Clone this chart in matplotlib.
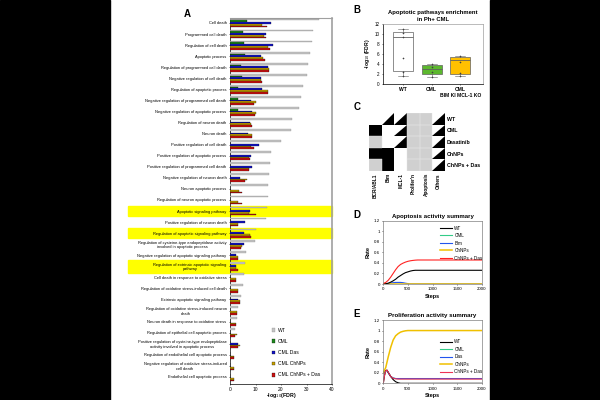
import numpy as np
import matplotlib
matplotlib.use("Agg")
import matplotlib.pyplot as plt
from matplotlib.patches import Rectangle, Polygon
from matplotlib.colors import ListedColormap
from matplotlib.transforms import blended_transform_factory

plt.rcParams['font.family'] = ['Liberation Sans', 'DejaVu Sans']

# Panel A: GO terms and -log10(FDR)
terms = [
    "Cell death", "Programmed cell death", "Regulation of cell death", "Apoptotic process",
    "Regulation of programmed cell death", "Negative regulation of cell death",
    "Regulation of apoptotic process", "Negative regulation of programmed cell death",
    "Negative regulation of apoptotic process", "Regulation of neuron death", "Neuron death",
    "Positive regulation of cell death", "Positive regulation of apoptotic process",
    "Positive regulation of programmed cell death", "Negative regulation of neuron death",
    "Neuron apoptotic process", "Regulation of neuron apoptotic process",
    "Apoptotic signaling pathway", "Positive regulation of neuron death",
    "Regulation of apoptotic signaling pathway",
    "Regulation of cysteine-type endopeptidase activity\ninvolved in apoptotic process",
    "Negative regulation of apoptotic signaling pathway",
    "Regulation of extrinsic apoptotic signaling\npathway",
    "Cell death in response to oxidative stress",
    "Regulation of oxidative stress-induced cell death",
    "Extrinsic apoptotic signaling pathway",
    "Regulation of oxidative stress-induced neuron\ndeath",
    "Neuron death in response to oxidative stress",
    "Regulation of epithelial cell apoptotic process",
    "Positive regulation of cysteine-type endopeptidase\nactivity involved in apoptotic process",
    "Regulation of endothelial cell apoptotic process",
    "Negative regulation of oxidative stress-induced\ncell death",
    "Endothelial cell apoptotic process",
]
highlighted = [17, 19, 22]

wt = [34.9, 32.5, 32.3, 31.2, 30.5, 30.2, 28.6, 27.7, 27.2, 24.4, 24.0, 19.9, 15.9, 15.6, 15.4,
      15.0, 14.9, 14.6, 14.0, 10.3, 9.8, 6.4, 5.9, 5.4, 5.1, 4.3, 3.0, 2.7, 2.0, 0, 0, 0, 0]
cml = [6.8, 5.1, 5.6, 5.9, 4.2, 4.6, 3.3, 3.3, 3.3, 0, 0, 0, 0, 0, 0, 0, 0, 0, 0, 0, 0, 0, 0,
       0, 0, 0, 0, 0, 0, 0, 0, 0, 0]
cml_das = [16.0, 14.0, 16.9, 12.0, 14.9, 12.0, 12.7, 8.2, 8.5, 7.7, 6.9, 11.4, 8.2, 8.5, 3.8,
           0, 0, 7.8, 5.8, 5.5, 5.4, 2.2, 2.5, 0, 0, 3.1, 0, 0, 0, 3.0, 0, 0, 0]
cml_chnps = [12.7, 13.5, 14.9, 12.9, 15.3, 12.2, 14.8, 10.0, 10.0, 8.1, 8.5, 8.2, 7.5, 7.5, 6.5,
             3.5, 3.3, 7.5, 3.1, 7.7, 4.8, 3.0, 2.2, 2.5, 3.1, 3.8, 2.7, 2.5, 2.7, 4.1, 1.7, 1.7, 1.7]
cml_chnps_das = [14.4, 14.2, 15.6, 13.7, 15.3, 12.7, 14.8, 9.5, 9.8, 8.5, 8.8, 9.3, 7.7, 7.5, 5.8,
                 4.8, 4.6, 10.3, 3.1, 8.4, 4.3, 3.0, 3.3, 2.5, 3.3, 4.1, 2.7, 2.5, 2.0, 3.0, 1.7, 1.7, 1.7]
series_a = [wt, cml, cml_das, cml_chnps, cml_chnps_das]
names_a = ["WT", "CML", "CML Das", "CML ChNPs", "CML ChNPs + Das"]
colors_a = ["#c4c4c4", "#1f8a1f", "#1414c8", "#c8a000", "#cc1111"]

# Panel B: boxplot stats
groups_b = ["WT", "CML", "CML\nBIM KI MCL-1 KO"]
box_lo = [2.6, 2.0, 1.9]
box_hi = [10.45, 3.7, 5.4]
box_med = [9.4, 2.9, 4.65]
whis_lo = [1.6, 1.4, 1.6]
whis_hi = [10.9, 3.9, 5.6]
points_b = [[10.9, 10.25, 9.4, 5.1, 2.4, 1.6], [3.9, 3.4, 2.4, 1.4], [5.6, 4.3, 2.2, 1.6]]
colors_b = ["white", "#5cb82e", "#ffc000"]

# Panel C: state grid (0 white, 1 black, 2 gray, 3 triangle)
rows_c = ["WT", "CML", "Dasatinib", "ChNPs", "ChNPs + Das"]
cols_c = ["BCR/ABL1", "Bim", "MCL-1", "Prolifer'n", "Apoptosis", "Others"]
grid_c = [
    [0, 3, 3, 2, 2, 3],
    [1, 0, 3, 2, 2, 3],
    [2, 0, 3, 2, 2, 3],
    [1, 1, 0, 2, 2, 3],
    [2, 1, 0, 2, 2, 3],
]

# Panel D: apoptosis activity
steps_d = [0, 50, 100, 150, 200, 250, 300, 350, 400, 450, 500, 550, 600, 650, 700, 1000, 1500, 2000]
apo_wt = [0, 0.005, 0.015, 0.035, 0.06, 0.09, 0.13, 0.16, 0.19, 0.215, 0.23, 0.245, 0.255, 0.26,
          0.26, 0.26, 0.26, 0.26]
apo_cml = [0] * 18
apo_bim = [0, 0.005, 0.01, 0.02, 0.025, 0.03, 0.03, 0.03, 0.025, 0.015, 0.008, 0, 0, 0, 0, 0, 0, 0]
apo_chnps = [0] * 18
apo_chnps_das = [0.01, 0.03, 0.07, 0.13, 0.2, 0.27, 0.33, 0.37, 0.395, 0.415, 0.43, 0.44, 0.447,
                 0.452, 0.455, 0.455, 0.455, 0.455]

# Panel E: proliferation activity
steps_e = [0, 25, 50, 75, 100, 150, 200, 250, 300, 350, 400, 450, 500, 600, 700, 1000, 1500, 2000]
pro_wt = [0, 0.15, 0.24, 0.25, 0.21, 0.13, 0.07, 0.03, 0.01, 0, 0, 0, 0, 0, 0, 0, 0, 0]
pro_cml = [0.2, 0.22, 0.24, 0.24, 0.2, 0.13, 0.1, 0.09, 0.09, 0.09, 0.09, 0.09, 0.09, 0.09, 0.09,
           0.09, 0.09, 0.09]
pro_das = [0.2, 0.22, 0.24, 0.24, 0.2, 0.13, 0.1, 0.09, 0.09, 0.09, 0.09, 0.09, 0.09, 0.09, 0.09,
           0.09, 0.09, 0.09]
pro_chnps = [0.2, 0.25, 0.3, 0.4, 0.5, 0.68, 0.82, 0.9, 0.94, 0.97, 0.985, 0.995, 1.0, 1.0, 1.0,
             1.0, 1.0, 1.0]
pro_chnps_das = [0, 0.15, 0.24, 0.25, 0.21, 0.13, 0.095, 0.085, 0.08, 0.08, 0.08, 0.08, 0.08, 0.08,
                 0.08, 0.08, 0.08, 0.08]

fig = plt.figure(figsize=(6, 4), dpi=100)

# black side bands
fig.patches.append(Rectangle((0, 0), 110 / 600, 1, transform=fig.transFigure, color="black", zorder=-5))
fig.patches.append(Rectangle((490 / 600, 0), 110 / 600, 1, transform=fig.transFigure, color="black", zorder=-5))


def px(x0, y0, x1, y1):
    return [x0 / 600, 1 - y1 / 400, (x1 - x0) / 600, (y1 - y0) / 400]


# ---- Panel A
axA = fig.add_axes(px(230, 18, 332, 384))
n = len(terms)
y = np.arange(n)
offs = [-0.32, -0.16, 0, 0.16, 0.32]
for vals, nm, col, o in zip(series_a, names_a, colors_a, offs):
    ec = "#808080" if nm == "WT" else "black"
    axA.barh(y + o, vals, height=0.16, color=col, edgecolor=ec, linewidth=0.2, label=nm, zorder=3)
axA.set_ylim(32.64, -0.45)
axA.set_xlim(0, 40)
axA.set_xticks([0, 10, 20, 30, 40])
axA.set_yticks(y)
axA.set_yticklabels(terms, fontsize=2.9, multialignment="center")
axA.tick_params(axis="both", length=1, width=0.4, pad=1.5)
axA.tick_params(axis="x", labelsize=3.5, pad=1)
for s in ["top", "right"]:
    axA.spines[s].set_color("#a0a0a0")
axA.spines["right"].set_linewidth(1.2)
for s in ["left", "bottom"]:
    axA.spines[s].set_linewidth(0.5)
fig.text(281 / 600, 1 - 396 / 400, "-log$_{10}$(FDR)", fontsize=3.8, fontweight="bold",
         ha="center", va="center")
tr = blended_transform_factory(fig.transFigure, axA.transData)
for i in highlighted:
    h = 1.2 if "\n" in terms[i] else 0.95
    axA.add_patch(Rectangle((128 / 600, i - h / 2), (332 - 128) / 600, h, transform=tr,
                            color="#ffff00", zorder=0, clip_on=False))
axA.legend(loc="upper left", bbox_to_anchor=(269 / 600, 1 - 325 / 400), bbox_transform=fig.transFigure,
           fontsize=3.6, frameon=False, handlelength=0.7, handleheight=0.7, labelspacing=1.25,
           handletextpad=0.6, borderpad=0)
fig.text(187 / 600, 1 - 14 / 400, "A", fontsize=7, fontweight="bold", ha="center", va="center")

# ---- Panel B
axB = fig.add_axes(px(383, 24, 483, 83.5))
stats = []
for i in range(3):
    stats.append({"med": box_med[i], "q1": box_lo[i], "q3": box_hi[i],
                  "whislo": whis_lo[i], "whishi": whis_hi[i], "fliers": []})
bp = axB.bxp(stats, positions=[1, 2, 3], widths=0.7, patch_artist=True, showcaps=True,
             boxprops=dict(linewidth=0.5, edgecolor="#606060"),
             medianprops=dict(color="#606060", linewidth=0.6),
             whiskerprops=dict(linewidth=0.4, color="#606060"),
             capprops=dict(linewidth=0.4, color="#606060"))
for patch, c in zip(bp["boxes"], colors_b):
    patch.set_facecolor(c)
for i, pts in enumerate(points_b):
    axB.plot([i + 1] * len(pts), pts, "+", color="#404040", ms=2, mew=0.4, zorder=4)
axB.set_xlim(0.3, 3.8)
axB.set_ylim(0, 12)
axB.set_yticks([0, 2, 4, 6, 8, 10, 12])
axB.set_xticks([1, 2, 3])
axB.set_xticklabels(groups_b, fontsize=3.6, fontweight="bold")
axB.tick_params(axis="both", length=1, width=0.4, pad=1.5)
axB.tick_params(axis="y", labelsize=3.3)
for s in axB.spines.values():
    s.set_linewidth(0.5)
for s in ["top", "right"]:
    axB.spines[s].set_color("#a0a0a0")
axB.set_ylabel("-log$_{10}$ (FDR)", fontsize=3.6, fontweight="bold", labelpad=2)
axB.set_title("Apoptotic pathways enrichment\nin Ph+ CML", fontsize=4.2, fontweight="bold", pad=2.5,
              linespacing=1.3)
fig.text(357 / 600, 1 - 10 / 400, "B", fontsize=7, fontweight="bold", ha="center", va="center")

# ---- Panel C
axC = fig.add_axes(px(369, 113, 445, 171))
g = np.array(grid_c)
base = np.where(g == 3, 0, g)
cmap = ListedColormap(["white", "black", "#d0d0d0"])
axC.pcolormesh(np.arange(7), np.arange(6), base, cmap=cmap, vmin=-0.5, vmax=2.5,
               edgecolors="none")
for r in range(g.shape[0]):
    for c in range(g.shape[1]):
        if g[r, c] == 2:
            axC.add_patch(Rectangle((c, r), 1, 1, facecolor="none", edgecolor="#e4e4e4", lw=0.3))
        if g[r, c] == 3:
            axC.add_patch(Polygon([(c, r + 1), (c + 1, r + 1), (c + 1, r)], closed=True,
                                  facecolor="black", edgecolor="none"))
axC.set_xlim(0, 6)
axC.set_ylim(5, 0)
axC.set_xticks(np.arange(6) + 0.5)
axC.set_xticklabels(cols_c, rotation=90, fontsize=3.4, fontweight="bold", va="top")
axC.set_yticks(np.arange(5) + 0.5)
axC.set_yticklabels(rows_c, fontsize=3.8, fontweight="bold")
axC.yaxis.tick_right()
axC.tick_params(length=0, pad=1.5)
for s in axC.spines.values():
    s.set_visible(False)
fig.text(357 / 600, 1 - 107 / 400, "C", fontsize=7, fontweight="bold", ha="center", va="center")


def summary(ax, steps, curves, names, colors, title, letter, ly, legend_order):
    for vals, nm, col in zip(curves, names, colors):
        lw = 1.1 if col == "#f0c000" else 0.8
        ax.plot(steps, vals, color=col, lw=lw, label=nm)
    ax.set_xlim(0, 2000)
    ax.set_ylim(0, 1.2)
    ax.set_xticks([0, 500, 1000, 1500, 2000])
    ax.set_yticks([0, 0.2, 0.4, 0.6, 0.8, 1.0, 1.2])
    ax.set_yticklabels(["0", "0.2", "0.4", "0.6", "0.8", "1", "1.2"])
    ax.tick_params(axis="both", length=1, width=0.4, pad=1.5, labelsize=3.2)
    for s in ax.spines.values():
        s.set_linewidth(0.5)
        s.set_color("#808080")
    ax.set_xlabel("Steps", fontsize=4, fontweight="bold", labelpad=1.5)
    ax.set_ylabel("Rate", fontsize=4, fontweight="bold", labelpad=2)
    ax.set_title(title, fontsize=4.4, fontweight="bold", pad=2)
    h, l = ax.get_legend_handles_labels()
    order = [names.index(x) for x in legend_order]
    ax.legend([h[i] for i in order], [l[i] for i in order], loc="upper left",
              bbox_to_anchor=(0.55, ly), fontsize=3.3, frameon=False, handlelength=2.6,
              labelspacing=0.55, handletextpad=0.6, borderpad=0)
    fig.text(357 / 600, ax.get_position().y1 + 6 / 400, letter, fontsize=7, fontweight="bold",
             ha="center", va="center")


axD = fig.add_axes(px(383.3, 220.7, 481.7, 284))
summary(axD, steps_d, [apo_bim, apo_cml, apo_chnps, apo_wt, apo_chnps_das],
        ["Bim", "CML", "ChNPs", "WT", "ChNPs + Das"],
        ["#2255ee", "#33cc88", "#f0c000", "black", "#ff2222"],
        "Apoptosis activity summary", "D", 0.96,
        ["WT", "CML", "Bim", "ChNPs", "ChNPs + Das"])

axE = fig.add_axes(px(383.3, 320, 481.7, 383.3))
summary(axE, steps_e, [pro_cml, pro_das, pro_chnps, pro_wt, pro_chnps_das],
        ["CML", "Das", "ChNPs", "WT", "ChNPs + Das"],
        ["#33cc88", "#2255ee", "#f0c000", "black", "#ee3355"],
        "Proliferation activity summary", "E", 0.73,
        ["WT", "CML", "Das", "ChNPs", "ChNPs + Das"])

fig.savefig("out.png", dpi=100)
